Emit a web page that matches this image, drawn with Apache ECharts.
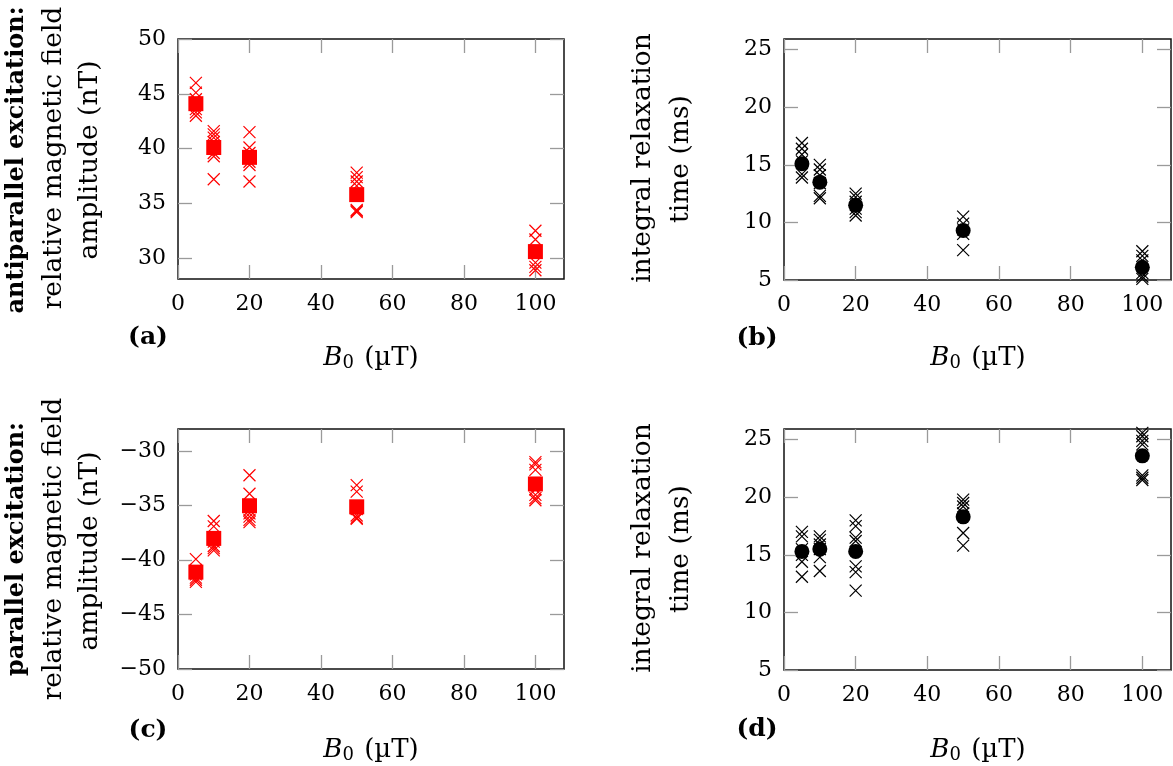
<!DOCTYPE html>
<html>
<head>
<meta charset="utf-8">
<script src="https://cdn.jsdelivr.net/npm/echarts@6/dist/echarts.min.js"></script>
<style>
html,body{margin:0;padding:0;background:#fff;}
#chart{width:1173px;height:766px;}
</style>
</head>
<body>
<div id="chart"></div>
<script>
// ---------- data ----------
const B0 = [5, 10, 20, 50, 100];
const xTicks = [0, 20, 40, 60, 80, 100];
const ampAntiTicks = [30, 35, 40, 45, 50];
const ampParTicks = [-50, -45, -40, -35, -30];
const timeTicks = [5, 10, 15, 20, 25];

// (a) antiparallel excitation: amplitude (nT)
const antiAmpRuns = [
  [46.0, 45.1, 44.5, 43.6, 43.3, 43.0],
  [41.6, 41.3, 41.0, 40.6, 39.6, 39.3, 37.2],
  [41.5, 40.1, 39.6, 38.8, 38.5, 37.0],
  [37.8, 37.4, 37.0, 36.6, 34.4, 34.3, 34.2],
  [32.5, 31.7, 30.6, 29.6, 29.2, 28.9]
];
const antiAmpMean = [44.1, 40.1, 39.2, 35.8, 30.6];

// (b) antiparallel excitation: integral relaxation time (ms)
const antiTimeRuns = [
  [16.9, 16.4, 15.9, 15.3, 14.2, 13.9],
  [15.0, 14.6, 14.1, 13.4, 12.3, 12.1],
  [12.5, 12.2, 11.8, 11.2, 10.9, 10.6],
  [10.5, 9.9, 9.4, 9.0, 7.6],
  [7.5, 7.1, 6.7, 5.6, 5.3, 5.1]
];
const antiTimeMean = [15.1, 13.5, 11.5, 9.3, 6.1];

// (c) parallel excitation: amplitude (nT)
const parAmpRuns = [
  [-39.9, -40.9, -41.3, -41.6, -41.8, -42.0],
  [-36.4, -36.9, -38.3, -38.7, -38.9, -39.1],
  [-32.2, -33.9, -35.4, -35.7, -36.0, -36.3, -36.5],
  [-33.1, -33.7, -35.3, -35.9, -36.1, -36.2],
  [-31.0, -31.2, -31.7, -33.5, -34.0, -34.3, -34.5]
];
const parAmpMean = [-41.1, -38.0, -35.0, -35.1, -33.0];

// (d) parallel excitation: integral relaxation time (ms)
const parTimeRuns = [
  [17.0, 16.6, 15.5, 15.0, 14.4, 13.1],
  [16.6, 16.3, 15.9, 15.5, 14.8, 13.6],
  [18.0, 17.5, 16.5, 16.2, 14.0, 13.5, 11.9],
  [19.8, 19.5, 19.2, 18.6, 16.9, 15.8],
  [25.6, 25.3, 24.9, 24.6, 21.9, 21.7, 21.5]
];
const parTimeMean = [15.3, 15.5, 15.3, 18.3, 23.6];

// ---------- styling / layout ----------
const FONT = 'DejaVu Serif';
const RED = '#ff0000';
const TICKC = '#9a9a9a';
const CROSS = 'path://M0 0L10 10M10 0L0 10';

const grids = [
  {left: 178, top: 39, width: 386, height: 240},
  {left: 784, top: 39, width: 387, height: 241},
  {left: 178, top: 429, width: 386, height: 240},
  {left: 784, top: 429, width: 387, height: 241}
];
const yRanges = [[28.1, 50], [5, 25.93], [-50, -27.95], [5, 25.93]];
const yTickSets = [ampAntiTicks, timeTicks, ampParTicks, timeTicks];

const fmtNum = v => (v < 0 ? '\u2212' + Math.abs(v) : String(v));

const xAxes = [], yAxes = [];
grids.forEach((g, i) => {
  ['bottom', 'top'].forEach(pos => {
    xAxes.push({
      gridIndex: i, type: 'value', position: pos, min: 0, max: 108,
      axisLine: {show: false, onZero: false}, splitLine: {show: false},
      axisTick: {show: true, inside: true, length: 14, customValues: xTicks,
        lineStyle: {color: TICKC, width: 1.3}},
      axisLabel: pos === 'bottom'
        ? {show: true, customValues: xTicks, margin: 14, fontFamily: FONT, fontSize: 22, color: '#000', formatter: fmtNum}
        : {show: false}
    });
  });
  ['left', 'right'].forEach(pos => {
    yAxes.push({
      gridIndex: i, type: 'value', position: pos, min: yRanges[i][0], max: yRanges[i][1],
      axisLine: {show: false, onZero: false}, splitLine: {show: false},
      axisTick: {show: true, inside: true, length: 14, customValues: yTickSets[i],
        lineStyle: {color: TICKC, width: 1.3}},
      axisLabel: pos === 'left'
        ? {show: true, customValues: yTickSets[i], margin: 12, fontFamily: FONT, fontSize: 22, color: '#000', formatter: fmtNum}
        : {show: false}
    });
  });
});

function runsData(runs) {
  const out = [];
  runs.forEach((arr, i) => arr.forEach(v => out.push([B0[i], v])));
  return out;
}
function meanData(m) { return m.map((v, i) => [B0[i], v]); }

const panels = [
  {runs: antiAmpRuns, mean: antiAmpMean, color: RED, sym: 'rect'},
  {runs: antiTimeRuns, mean: antiTimeMean, color: '#000', sym: 'circle'},
  {runs: parAmpRuns, mean: parAmpMean, color: RED, sym: 'rect'},
  {runs: parTimeRuns, mean: parTimeMean, color: '#000', sym: 'circle'}
];
const series = [];
panels.forEach((p, i) => {
  series.push({
    type: 'scatter', xAxisIndex: 2 * i, yAxisIndex: 2 * i,
    symbol: CROSS, symbolSize: 12, data: runsData(p.runs),
    itemStyle: {color: 'none', borderColor: p.color, borderWidth: 1.2, opacity: 1},
    emphasis: {disabled: true}, silent: true, z: 2
  });
  series.push({
    type: 'scatter', xAxisIndex: 2 * i, yAxisIndex: 2 * i,
    symbol: p.sym, symbolSize: 15, data: meanData(p.mean),
    itemStyle: {color: p.color, opacity: 1},
    emphasis: {disabled: true}, silent: true, z: 3
  });
});

function vText(text, x, y, size, bold) {
  return {type: 'text', x: x, y: y, rotation: Math.PI / 2, silent: true,
    style: {text: text, fill: '#000', font: (bold ? 'bold ' : '') + size + 'px "' + FONT + '"',
      textAlign: 'center', textVerticalAlign: 'middle'}};
}
function hText(text, x, y, size, bold) {
  return {type: 'text', x: x, y: y, silent: true,
    style: {text: text, fill: '#000', font: (bold ? 'bold ' : '') + size + 'px "' + FONT + '"',
      textAlign: 'center', textVerticalAlign: 'middle'}};
}
function bLabel(cx, cy) {
  return {type: 'text', x: cx, y: cy, silent: true,
    style: {
      text: '{b|B}{s|0} (\u00b5T)',
      textAlign: 'center', textVerticalAlign: 'middle',
      fill: '#000', font: '26px "' + FONT + '"',
      rich: {
        b: {fontFamily: FONT, fontSize: 26, fontStyle: 'italic', fill: '#000'},
        s: {fontFamily: FONT, fontSize: 18, fill: '#000', padding: [10, 2, 0, 0]}
      }
    }};
}

const graphics = [
  vText('antiparallel excitation:', 17, 160, 24, true),
  vText('relative magnetic field', 54, 158, 26.5, false),
  vText('amplitude (nT)', 90, 160, 26.5, false),
  vText('parallel excitation:', 17, 549, 24, true),
  vText('relative magnetic field', 54, 549, 26.5, false),
  vText('amplitude (nT)', 90, 551, 26.5, false),
  vText('integral relaxation', 643, 158, 26.5, false),
  vText('time (ms)', 681, 159, 26.5, false),
  vText('integral relaxation', 643, 548, 26.5, false),
  vText('time (ms)', 681, 549, 26.5, false),
  hText('(a)', 148, 337, 25, true),
  hText('(b)', 757, 338, 25, true),
  hText('(c)', 148, 730, 25, true),
  hText('(d)', 757, 729, 25, true),
  bLabel(371, 358),
  bLabel(978, 358),
  bLabel(371, 750),
  bLabel(978, 750)
];

const chart = echarts.init(document.getElementById('chart'), null, {renderer: 'canvas'});
chart.setOption({
  animation: false,
  backgroundColor: '#fff',
  grid: grids.map(g => Object.assign({show: true, borderColor: '#111', borderWidth: 1.5, backgroundColor: 'transparent', containLabel: false}, g)),
  xAxis: xAxes,
  yAxis: yAxes,
  series: series,
  graphic: graphics
});
</script>
</body>
</html>
